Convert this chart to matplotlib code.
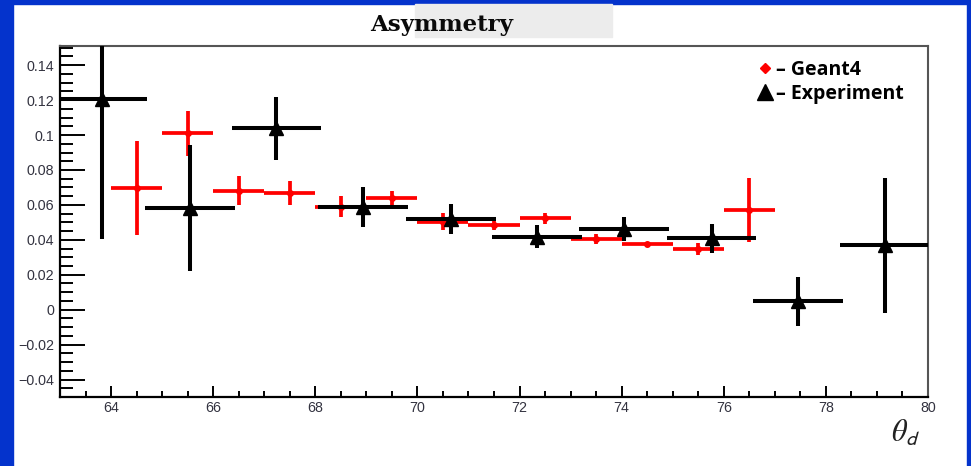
import numpy as np
import matplotlib
matplotlib.use('Agg')
import matplotlib.pyplot as plt
from matplotlib.ticker import MultipleLocator, FuncFormatter
from matplotlib.lines import Line2D
from matplotlib.patches import Rectangle

plt.rcParams['mathtext.fontset'] = 'stix'

# Experiment (black triangles)
exp_x = [63.83, 65.54, 67.24, 68.94, 70.65, 72.35, 74.04, 75.76, 77.46, 79.16]
exp_y = [0.1206, 0.0581, 0.1038, 0.0590, 0.0518, 0.0419, 0.0463, 0.0410, 0.0048, 0.0368]
exp_yerr = [0.080, 0.036, 0.018, 0.0115, 0.0086, 0.0067, 0.0067, 0.0083, 0.014, 0.0388]
exp_xerr = 0.88

# Geant4 (red)
g4_x = [64.5, 65.5, 66.5, 67.5, 68.5, 69.5, 70.5, 71.5, 72.5, 73.5, 74.5, 75.5, 76.5]
g4_y = [0.0695, 0.101, 0.068, 0.0667, 0.059, 0.0638, 0.0505, 0.0486, 0.0524, 0.0404, 0.0375, 0.0349, 0.0571]
g4_yerr = [0.027, 0.0128, 0.0083, 0.0068, 0.006, 0.004, 0.005, 0.0027, 0.0032, 0.003, 0.0015, 0.0033, 0.0183]
g4_xerr = 0.5

W, H = 971, 466
fig = plt.figure(figsize=(W / 100, H / 100), dpi=100)

# blue frame (left, top, right)
blue = '#0433cc'
fig.patches.append(Rectangle((0, 0), 13 / W, 1, transform=fig.transFigure, color=blue, zorder=0))
fig.patches.append(Rectangle((0, 1 - 4 / H), 1, 4 / H, transform=fig.transFigure, color=blue, zorder=0))
fig.patches.append(Rectangle((1 - 4 / W, 0), 4 / W, 1, transform=fig.transFigure, color=blue, zorder=0))

# grey box behind title
fig.patches.append(Rectangle((415 / W, 1 - 37 / H), 197 / W, 33 / H, transform=fig.transFigure,
                             color='#ececec', zorder=0))
fig.text(442 / W, 1 - 25 / H, 'Asymmetry', ha='center', va='center', fontsize=16.5,
         family='DejaVu Serif', weight='heavy', color='#0a0a0a')

ax = fig.add_axes([60 / W, 1 - 397 / H, 868 / W, 351 / H])
ax.set_xlim(63, 80)
ax.set_ylim(-0.05, 0.151)

ax.errorbar(g4_x, g4_y, xerr=g4_xerr, yerr=g4_yerr, fmt='o', color='red', ms=4,
            elinewidth=2.7, capsize=0, zorder=2)
ax.errorbar(exp_x, exp_y, xerr=exp_xerr, yerr=exp_yerr, fmt='^', color='black', ms=10.5,
            elinewidth=2.9, capsize=0, zorder=3)

ax.xaxis.set_major_locator(MultipleLocator(2))
ax.xaxis.set_minor_locator(MultipleLocator(0.5))
ax.yaxis.set_major_locator(MultipleLocator(0.02))
ax.yaxis.set_minor_locator(MultipleLocator(0.005))
ax.yaxis.set_major_formatter(FuncFormatter(lambda v, p: ('%g' % round(v, 3)).replace('-', '\u2212')))

ax.tick_params(axis='both', which='both', direction='in', top=False, right=False, width=1.4,
               labelsize=10.3, labelcolor='#333340')
ax.tick_params(axis='y', which='major', length=18, pad=4)
ax.tick_params(axis='y', which='minor', length=9.5)
ax.tick_params(axis='x', which='major', length=8, pad=3)
ax.tick_params(axis='x', which='minor', length=4.5)
for lab in ax.get_xticklabels() + ax.get_yticklabels():
    lab.set_family('Liberation Sans')

for s in ['left', 'bottom']:
    ax.spines[s].set_linewidth(1.6)
    ax.spines[s].set_color('black')
for s in ['top', 'right']:
    ax.spines[s].set_linewidth(1.5)
    ax.spines[s].set_color('#555555')

fig.text(906 / W, 1 - 432 / H, r'$\theta_{\mathsf{d}}$', ha='center', va='center', fontsize=22,
         color='#222222')

handles = [Line2D([], [], ls='none', marker='D', ms=5, color='red'),
           Line2D([], [], ls='none', marker='^', ms=11, color='black')]
leg = ax.legend(handles, ['\u2013 Geant4', '\u2013 Experiment'], loc='upper left',
                bbox_to_anchor=(748 / W, 1 - 50 / H), bbox_transform=fig.transFigure,
                frameon=False, handlelength=0.7, handletextpad=0.25, labelspacing=0.2,
                borderpad=0, prop={'family': 'Open Sans', 'weight': 'bold', 'size': 14})

fig.savefig('out.png', dpi=100)
